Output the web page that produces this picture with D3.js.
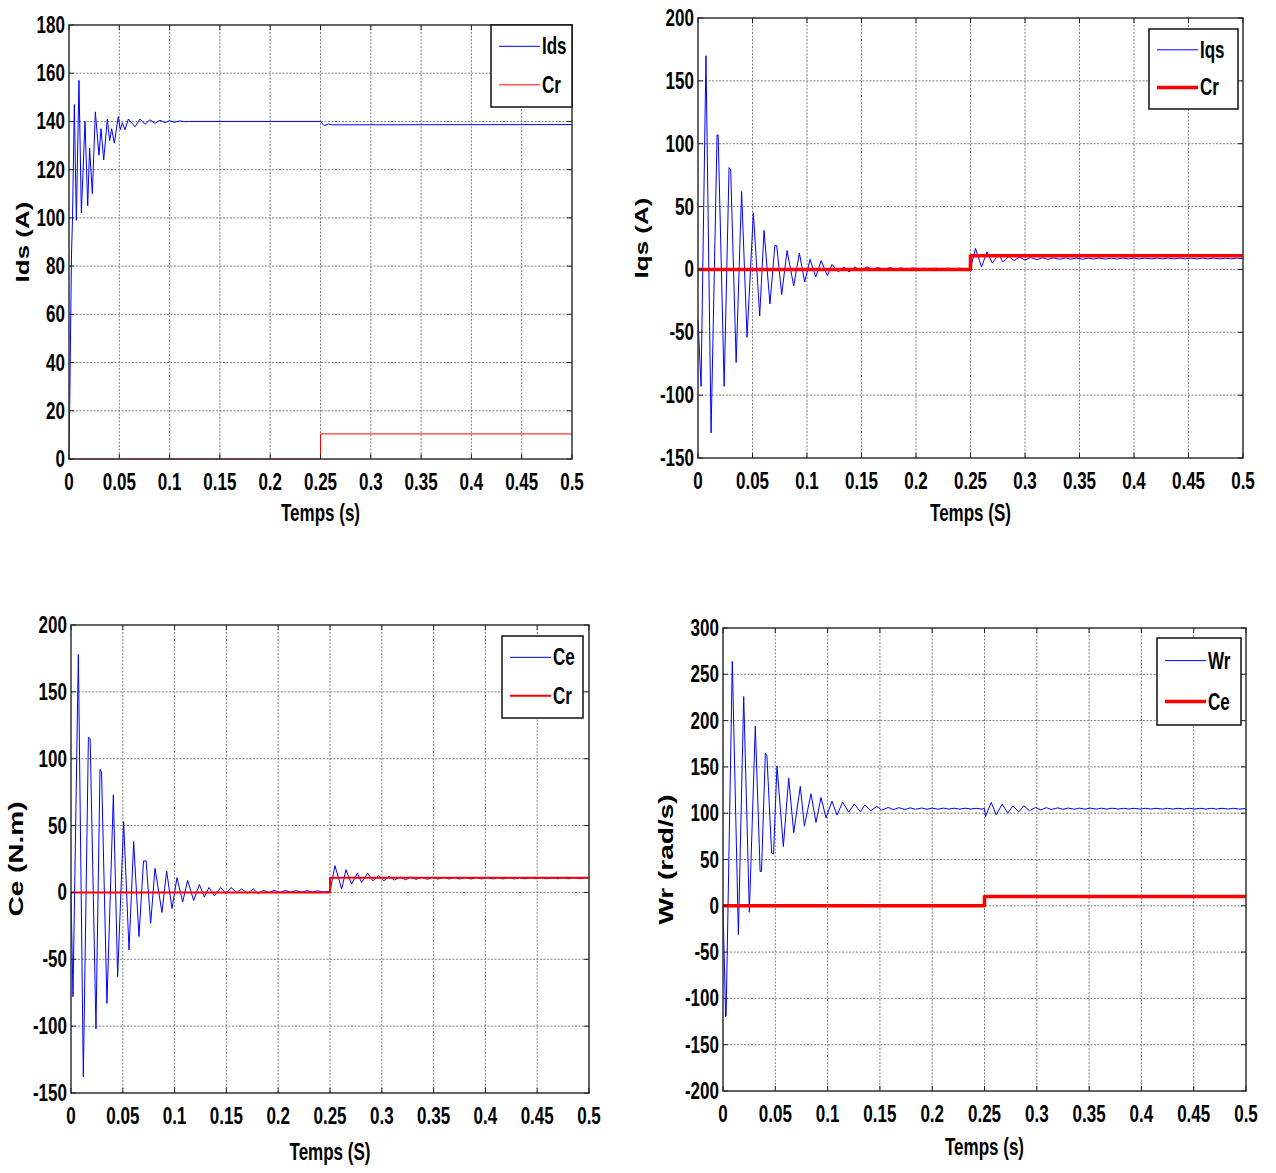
<!doctype html>
<html lang="fr">
<head>
<meta charset="utf-8">
<title>Ids Iqs Ce Wr</title>
<style>
    body { margin: 0; background: #fff; }
    .grid line { stroke: #808080; stroke-width: 1; stroke-dasharray: 2 1.5; }
    .frame { fill: none; stroke: #333; stroke-width: 1.5; }
    .tick-mark { stroke: #222; stroke-width: 1; }
    .lbl { font-family: "Liberation Sans", Arial, sans-serif; font-weight: bold; fill: #000; }
    .curve { fill: none; stroke-linejoin: round; }
    .legend-box { fill: #fff; stroke: #111; stroke-width: 1.5; }
</style>
</head>
<body>
<svg id="fig" width="1276" height="1173"></svg>

<script src="https://d3js.org/d3.v7.min.js"></script>
<script>
// tick labels
const timeTicks = [0, 0.05, 0.1, 0.15, 0.2, 0.25, 0.3, 0.35, 0.4, 0.45, 0.5];
const timeTickLabels = ["0", "0.05", "0.1", "0.15", "0.2", "0.25", "0.3", "0.35", "0.4", "0.45", "0.5"];
const idsTicks = [0, 20, 40, 60, 80, 100, 120, 140, 160, 180];
const iqsTicks = [-150, -100, -50, 0, 50, 100, 150, 200];
const ceTicks = [-150, -100, -50, 0, 50, 100, 150, 200];
const wrTicks = [-200, -150, -100, -50, 0, 50, 100, 150, 200, 250, 300];

// load torque step (read per panel)
const crTime = [0, 0.25, 0.25, 0.5];
const crIds = [0, 0, 10.4, 10.4];
const crIqs = [0, 0, 10.8, 10.8];
const crCe = [0, 0, 11, 11];
const crWr = [0, 0, 10, 10];

// [t, value]
const ids = [[0,0],[0.0012,40],[0.0025,85],[0.0035,100],[0.0053,147],[0.0073,99],[0.0099,157],[0.0123,102],
    [0.0159,140],[0.0186,105],[0.0205,129],[0.0232,110],[0.0262,144],[0.0298,126],[0.0318,137],[0.0345,124],
    [0.0381,141],[0.0404,132],[0.0424,137],[0.045,131],[0.049,142],[0.051,136.5],[0.053,139.5],[0.0557,136.6],
    [0.059,141],[0.0656,137.8],[0.0706,141],[0.0755,138.8],[0.0805,140.7],[0.0855,139.2],[0.0905,140.5],
    [0.0954,139.5],[0.1,140.3],[0.105,139.7],[0.11,140.2],[0.115,139.9],[0.12,140],[0.25,140],
    [0.2535,138.3],[0.258,138.9],[0.262,138.6],[0.5,138.7]];

const iqs = [[0,-40],[0.0028,-93],[0.0073,170],[0.012,-130],[0.0175,107],[0.0185,107],[0.024,-93],[0.0285,81],
    [0.03,79],[0.035,-74],[0.04,62],[0.045,-54],[0.0508,45],[0.0566,-37],[0.0606,31],[0.066,-27.5],[0.0705,19],
    [0.0722,19],[0.0768,-20],[0.0817,15],[0.0878,-13],[0.093,13],[0.0979,-10],[0.1028,8],[0.108,-6],[0.113,7],
    [0.1187,-5],[0.123,4],[0.1287,-2],[0.134,2],[0.1385,-2],[0.144,2],[0.149,-1],[0.155,2],[0.16,0],[0.165,1.5],
    [0.171,0],[0.176,1.5],[0.181,0.2],[0.186,1.2],[0.192,0.3],[0.197,1.2],[0.202,0.3],[0.208,1],[0.213,0.3],
    [0.218,1],[0.224,0.4],[0.229,1],[0.234,0.4],[0.24,1],[0.245,0.5],[0.25,0.8],[0.2546,16.7],[0.2601,2],
    [0.2652,14],[0.2701,5],[0.2756,12],[0.2799,6],[0.285,10.5],[0.29,7],[0.295,9.8],[0.3,7.5],[0.305,9.5],
    [0.311,7.8],[0.316,9.3],[0.321,8],[0.326,9.2],[0.332,8],[0.337,9.2],[0.342,8.2],[0.347,9],[0.353,8.2],
    [0.358,9],[0.363,8.3],[0.368,9],[0.374,8.3],[0.379,9],[0.384,8.3],[0.39,9],[0.395,8.4],[0.4,9],[0.405,8.4],
    [0.41,9],[0.416,8.4],[0.421,9],[0.426,8.4],[0.431,9],[0.437,8.4],[0.442,9],[0.447,8.4],[0.452,9],
    [0.458,8.4],[0.463,9],[0.468,8.4],[0.473,9],[0.479,8.4],[0.484,9],[0.489,8.4],[0.494,9],[0.5,8.6]];

const ce = [[0,0],[0.0019,-78],[0.0071,178],[0.0119,-138],[0.0168,116],[0.0185,115],[0.0241,-102],[0.028,92],
    [0.0295,90],[0.0347,-83],[0.0409,73],[0.045,-63],[0.0508,53],[0.056,-43],[0.0605,38],[0.0656,-33],
    [0.07,23.6],[0.0725,23.6],[0.0769,-23],[0.0811,18],[0.0878,-15],[0.0923,16],[0.0975,-12],[0.1023,11],
    [0.1078,-7],[0.1126,9],[0.1184,-6],[0.1239,6],[0.1287,-3.5],[0.1332,3.7],[0.1384,-2.5],[0.1445,3.7],
    [0.1496,-1],[0.1544,3.7],[0.16,0],[0.1647,2.5],[0.1705,-0.5],[0.176,2.5],[0.181,-1],[0.1856,1.5],[0.191,0],
    [0.196,1.5],[0.202,0],[0.207,1.5],[0.212,0.2],[0.217,1.3],[0.223,0.2],[0.228,1.3],[0.233,0.3],[0.238,1.2],
    [0.244,0.3],[0.25,1],[0.2548,20],[0.2613,2.5],[0.2654,17],[0.2709,6.2],[0.2764,14.4],[0.2805,7.5],
    [0.2864,14.4],[0.2913,8.7],[0.297,12.6],[0.302,8.7],[0.307,12],[0.312,9.3],[0.318,11.5],[0.323,9.5],
    [0.328,11.5],[0.333,9.8],[0.339,11.3],[0.344,9.8],[0.349,11.3],[0.354,10],[0.36,11.2],[0.365,10],
    [0.37,11.2],[0.375,10],[0.381,11.1],[0.386,10],[0.391,11.1],[0.396,10.1],[0.402,11],[0.407,10.1],
    [0.412,11],[0.417,10.1],[0.423,11],[0.428,10.1],[0.433,11],[0.438,10.2],[0.444,11],[0.449,10.2],
    [0.454,11],[0.459,10.2],[0.465,11],[0.47,10.2],[0.475,11],[0.48,10.2],[0.486,11],[0.491,10.2],
    [0.496,11],[0.5,10.5]];

const wr = [[0,0],[0.0025,-120],[0.003,-118],[0.0089,264],[0.0147,-31],[0.0198,226],[0.0252,-7],[0.0309,194],
    [0.0355,37],[0.0368,37],[0.0405,165],[0.042,162],[0.0465,57],[0.0483,56],[0.0516,151],[0.0577,64],
    [0.0628,138],[0.0676,79],[0.0739,129],[0.0778,86],[0.0841,121],[0.0889,90],[0.0937,117],[0.0985,95],
    [0.1042,113],[0.109,98],[0.1144,112],[0.1201,101],[0.1256,110],[0.1313,101.5],[0.1358,109],[0.1412,102.6],
    [0.1469,107.3],[0.1517,103.3],[0.1581,106.2],[0.163,103.8],[0.168,106],[0.174,104],[0.179,105.8],
    [0.184,104.2],[0.19,105.6],[0.195,104.3],[0.2,105.5],[0.205,104.3],[0.211,105.5],[0.216,104.4],
    [0.221,105.4],[0.226,104.4],[0.232,105.4],[0.237,104.5],[0.242,105.3],[0.247,104.5],[0.25,105],
    [0.251,96.5],[0.2564,111.6],[0.2612,98.3],[0.2669,109.8],[0.2723,100],[0.2771,108],[0.2828,101.5],
    [0.2876,108],[0.293,102.6],[0.2987,106.2],[0.304,103.5],[0.309,106],[0.314,104],[0.32,105.8],[0.325,104.2],
    [0.33,105.6],[0.336,104.3],[0.341,105.5],[0.346,104.3],[0.351,105.5],[0.357,104.4],[0.362,105.4],
    [0.367,104.4],[0.372,105.4],[0.378,104.5],[0.383,105.3],[0.388,104.5],[0.393,105.3],[0.399,104.5],
    [0.404,105.3],[0.409,104.5],[0.414,105.3],[0.42,104.5],[0.425,105.3],[0.43,104.5],[0.435,105.3],
    [0.441,104.5],[0.446,105.3],[0.451,104.5],[0.456,105.3],[0.462,104.5],[0.467,105.3],[0.472,104.5],
    [0.477,105.3],[0.483,104.5],[0.488,105.3],[0.493,104.5],[0.5,105]];

const svg = d3.select("#fig");
const squeeze = 0.74;   // the original figure is compressed horizontally

function label(g, x, y, txt, size, anchor) {
    g.append("text")
        .attr("class", "lbl")
        .attr("transform", "translate(" + x + "," + y + ") scale(" + squeeze + ",1)")
        .attr("text-anchor", anchor)
        .style("font-size", size + "px")
        .text(txt);
}

function stepData(vals) {
    return crTime.map((t, i) => [t, vals[i]]);
}

const panels = [
    {box: [69, 572, 25, 459], dom: [0, 180], ticks: idsTicks, ylab: "Ids (A)", ylabX: 29, ylabSize: 26,
     xlab: "Temps (s)", xlabOff: 62, blue: ids, red: stepData(crIds), redW: 1, names: ["Ids", "Cr"],
     leg: [491, 25, 572, 107]},
    {box: [698, 1243, 18, 458], dom: [-150, 200], ticks: iqsTicks, ylab: "Iqs (A)", ylabX: 648, ylabSize: 26,
     xlab: "Temps (S)", xlabOff: 63, blue: iqs, red: stepData(crIqs), redW: 3.5, names: ["Iqs", "Cr"],
     leg: [1149, 29, 1238, 109]},
    {box: [71, 589, 625, 1093], dom: [-150, 200], ticks: ceTicks, ylab: "Ce (N.m)", ylabX: 23, ylabSize: 28,
     xlab: "Temps (S)", xlabOff: 67, blue: ce, red: stepData(crCe), redW: 2, names: ["Ce", "Cr"],
     leg: [502, 636, 583, 718]},
    {box: [723, 1246, 628, 1091], dom: [-200, 300], ticks: wrTicks, ylab: "Wr (rad/s)", ylabX: 673, ylabSize: 28,
     xlab: "Temps (s)", xlabOff: 64, blue: wr, red: stepData(crWr), redW: 3.5, names: ["Wr", "Ce"],
     leg: [1157, 638, 1241, 725]}
];

for (const p of panels) {
    const [l, r, t, b] = p.box;
    const x = d3.scaleLinear().domain([0, 0.5]).range([l, r]);
    const y = d3.scaleLinear().domain(p.dom).range([b, t]);
    const g = svg.append("g");

    // grid
    const grid = g.append("g").attr("class", "grid");
    grid.selectAll(".gx").data(timeTicks.slice(1, -1)).enter().append("line")
        .attr("x1", d => x(d)).attr("x2", d => x(d)).attr("y1", t).attr("y2", b);
    grid.selectAll(".gy").data(p.ticks.slice(1, -1)).enter().append("line")
        .attr("x1", l).attr("x2", r).attr("y1", d => y(d)).attr("y2", d => y(d));

    // curves
    const line = d3.line().x(d => x(d[0])).y(d => y(d[1]));
    g.append("path").datum(p.blue).attr("class", "curve")
        .attr("stroke", "#0000ff").attr("stroke-width", 1).attr("d", line);
    g.append("path").datum(p.red).attr("class", "curve")
        .attr("stroke", "#ff0000").attr("stroke-width", p.redW).attr("d", line);

    // frame and inner ticks
    g.append("rect").attr("class", "frame")
        .attr("x", l).attr("y", t).attr("width", r - l).attr("height", b - t);
    for (const v of timeTicks) {
        g.append("line").attr("class", "tick-mark").attr("x1", x(v)).attr("x2", x(v)).attr("y1", b).attr("y2", b - 5);
        g.append("line").attr("class", "tick-mark").attr("x1", x(v)).attr("x2", x(v)).attr("y1", t).attr("y2", t + 5);
    }
    for (const v of p.ticks) {
        g.append("line").attr("class", "tick-mark").attr("x1", l).attr("x2", l + 5).attr("y1", y(v)).attr("y2", y(v));
        g.append("line").attr("class", "tick-mark").attr("x1", r).attr("x2", r - 5).attr("y1", y(v)).attr("y2", y(v));
    }

    // tick labels
    timeTicks.forEach((v, i) => label(g, x(v), b + 31, timeTickLabels[i], 23, "middle"));
    p.ticks.forEach(v => label(g, l - 4, y(v) + 8, String(v), 23, "end"));

    // axis titles
    label(g, (l + r) / 2, b + p.xlabOff, p.xlab, 23, "middle");
    g.append("text")
        .attr("class", "lbl")
        .attr("transform", "translate(" + p.ylabX + "," + (t + b) / 2 + ") rotate(-90) scale(1," + squeeze + ")")
        .attr("text-anchor", "middle")
        .style("font-size", p.ylabSize + "px")
        .text(p.ylab);

    // legend
    const [lx1, ly1, lx2, ly2] = p.leg;
    g.append("rect").attr("class", "legend-box")
        .attr("x", lx1).attr("y", ly1).attr("width", lx2 - lx1).attr("height", ly2 - ly1);
    const rowY = [ly1 + (ly2 - ly1) * 0.26, ly1 + (ly2 - ly1) * 0.73];
    const colors = ["#0000ff", "#ff0000"];
    const widths = [1, p.redW];
    p.names.forEach((nm, i) => {
        g.append("line")
            .attr("x1", lx1 + 8).attr("x2", lx1 + 49)
            .attr("y1", rowY[i]).attr("y2", rowY[i])
            .attr("stroke", colors[i]).attr("stroke-width", widths[i]);
        label(g, lx1 + 51, rowY[i] + 8, nm, 23, "start");
    });
}
</script>
</body>
</html>
